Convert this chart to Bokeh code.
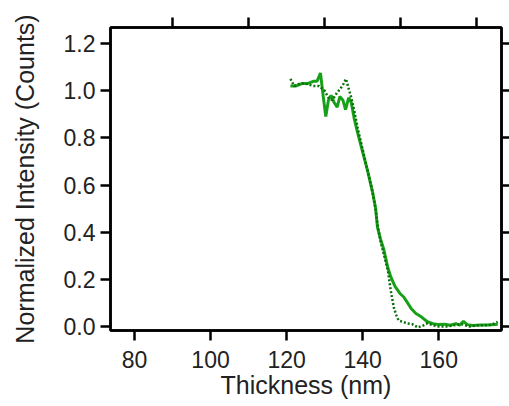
from bokeh.plotting import figure
from bokeh.models import LinearAxis, FixedTicker, Range1d, PrintfTickFormatter, CustomJSTickFormatter
from bokeh.embed import file_html
from bokeh.resources import INLINE

# Data
solid_x = [121.0, 122.5, 124.0, 125.5, 127.0, 128.0, 128.9, 129.6, 130.3, 131.0, 131.7, 132.5,
           133.3, 134.0, 134.8, 135.5, 136.3, 137.0, 137.8, 138.7, 140.0, 141.3, 142.6, 143.4,
           143.9, 144.7, 145.5, 146.6, 147.4, 148.5, 149.8, 150.8, 151.8, 152.8, 154.0, 155.5,
           157.0, 158.5, 160.0, 161.5, 163.0, 164.5, 165.5, 166.5, 167.5, 169.0, 171.0, 173.0, 175.5]
solid_y = [1.02, 1.02, 1.03, 1.03, 1.04, 1.04, 1.075, 0.98, 0.89, 0.96, 0.98, 0.95,
           0.93, 0.975, 0.96, 0.92, 0.97, 0.95, 0.88, 0.82, 0.74, 0.66, 0.57, 0.50,
           0.42, 0.37, 0.33, 0.25, 0.21, 0.17, 0.14, 0.125, 0.10, 0.075, 0.055, 0.04,
           0.02, 0.012, 0.008, 0.01, 0.005, 0.012, 0.006, 0.022, 0.008, 0.004, 0.006, 0.006, 0.01]

dot_x = [121.0, 122.0, 123.5, 125.0, 127.0, 128.5, 130.0, 131.0, 132.0, 133.2, 134.2, 135.0,
         135.6, 136.3, 137.0, 137.8, 138.7, 140.0, 141.3, 142.6, 143.4, 143.9, 144.7, 145.5,
         146.6, 147.4, 148.2, 149.0, 149.5, 150.5, 151.8, 153.0, 154.5, 156.0, 157.0, 158.5,
         160.0, 162.0, 164.0, 166.0, 168.0, 170.0, 172.0, 174.0, 175.5]
dot_y = [1.05, 1.02, 1.03, 1.03, 1.02, 1.02, 1.00, 0.97, 0.96, 0.99, 1.01, 1.03,
         1.05, 1.01, 0.97, 0.915, 0.84, 0.75, 0.66, 0.57, 0.50, 0.43, 0.36, 0.31,
         0.24, 0.15, 0.08, 0.04, 0.025, 0.02, 0.013, 0.01, -0.004, 0.005, 0.013, 0.005,
         0.0, 0.0, 0.005, 0.01, 0.0, 0.005, 0.005, 0.008, 0.02]

x_ticks = [80, 100, 120, 140, 160]
x_top_ticks = [90, 110, 130, 150, 170]
y_ticks = [0.0, 0.2, 0.4, 0.6, 0.8, 1.0, 1.2]

FONT = "Liberation Sans"

p = figure(width=509, height=406, output_backend="svg", toolbar_location=None,
           x_range=Range1d(73.7, 176.5), y_range=Range1d(-0.017, 1.268),
           min_border_left=110, min_border_right=8, min_border_top=27, min_border_bottom=76,
           x_axis_label="Thickness (nm)", y_axis_label="Normalized Intensity (Counts)")
p.grid.visible = False
p.outline_line_color = "black"
p.outline_line_width = 2.5
p.background_fill_color = "white"
p.border_fill_color = "white"

for ax in (p.xaxis[0], p.yaxis[0]):
    ax.axis_line_width = 2.5
    ax.major_tick_line_width = 2.5
    ax.major_tick_out = 10
    ax.major_tick_in = 0
    ax.minor_tick_line_color = None
    ax.major_label_text_font = FONT
    ax.major_label_text_font_size = "23px"
    ax.major_label_text_color = "#222222"
    ax.axis_label_text_font = FONT
    ax.axis_label_text_font_size = "25px"
    ax.axis_label_text_font_style = "normal"
    ax.axis_label_text_color = "#222222"

p.xaxis[0].ticker = FixedTicker(ticks=x_ticks)
p.xaxis[0].major_label_standoff = 10
p.xaxis[0].axis_label_standoff = 0
p.yaxis[0].ticker = FixedTicker(ticks=y_ticks)
p.yaxis[0].formatter = PrintfTickFormatter(format="%.1f")
p.yaxis[0].major_label_standoff = 5
p.yaxis[0].axis_label_standoff = 22

top = LinearAxis(ticker=FixedTicker(ticks=x_top_ticks), major_tick_out=10, major_tick_in=0,
                 major_tick_line_width=2.5, axis_line_width=2.5, minor_tick_line_color=None,
                 formatter=CustomJSTickFormatter(code="return ''"), major_label_standoff=0)
right = LinearAxis(ticker=FixedTicker(ticks=y_ticks), major_tick_out=8, major_tick_in=0,
                   major_tick_line_width=2.5, axis_line_width=2.5, minor_tick_line_color=None,
                   formatter=CustomJSTickFormatter(code="return ''"), major_label_standoff=0)
p.add_layout(top, "above")
p.add_layout(right, "right")

p.line(solid_x, solid_y, line_color="#18a018", line_width=3)
p.line(dot_x, dot_y, line_color="#0c700c", line_width=2.5, line_dash="2 2")

open("out.html", "w").write(file_html(p, INLINE))
